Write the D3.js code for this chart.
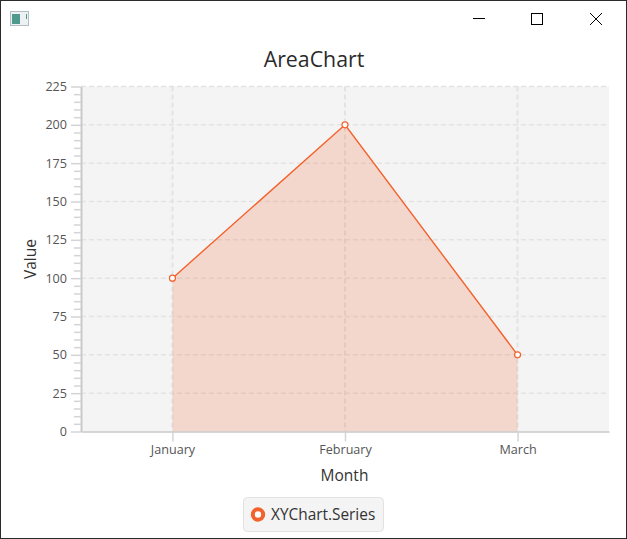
<!DOCTYPE html>
<html>
<head>
<meta charset="utf-8">
<script src="https://cdn.jsdelivr.net/npm/d3@7"></script>
<style>
html, body { margin: 0; padding: 0; background: #fff; }
svg { display: block; }
text { font-family: "Open Sans", "Noto Sans", sans-serif; }
</style>
</head>
<body>
<div id="screen"></div>
<script>
var width = 627;
var height = 539;

var months = ["January", "February", "March"];
var values = [100, 200, 50];
var majorTicks = [0, 25, 50, 75, 100, 125, 150, 175, 200, 225];
var minorTicks = [5, 10, 15, 20, 30, 35, 40, 45, 55, 60, 65, 70, 80, 85, 90, 95,
	105, 110, 115, 120, 130, 135, 140, 145, 155, 160, 165, 170,
	180, 185, 190, 195, 205, 210, 215, 220];
var chartTitle = "AreaChart";
var xTitle = "Month";
var yTitle = "Value";
var seriesName = "XYChart.Series";

var plotLeft = 81;
var plotRight = 609;
var plotTop = 86.5;
var plotBottom = 431.5;

var lineColor = "#f3622d";

var xScale = d3.scalePoint()
	.domain(months)
	.range([plotLeft, plotRight])
	.padding(0.53);

var yScale = d3.scaleLinear()
	.domain([0, 225])
	.range([plotBottom, plotTop]);

var screen = d3.select("#screen")
	.append("svg")
	.attr("width", width)
	.attr("height", height);

// window frame ------------------------------------------------------
screen.append("rect")
	.attr("x", 0.5)
	.attr("y", 0.5)
	.attr("width", width - 1)
	.attr("height", height - 1)
	.attr("fill", "#fff")
	.attr("stroke", "#2b2b2b");

var icon = screen.append("g");
icon.append("rect")
	.attr("x", 10.5).attr("y", 11.5)
	.attr("width", 18).attr("height", 14)
	.attr("fill", "#eef1f3").attr("stroke", "#b4bcc4");
icon.append("rect")
	.attr("x", 12).attr("y", 14)
	.attr("width", 8).attr("height", 10)
	.attr("fill", "#4f9a8c");
icon.append("rect")
	.attr("x", 26).attr("y", 14)
	.attr("width", 1).attr("height", 5)
	.attr("fill", "#4f9a8c");

var buttons = screen.append("g")
	.attr("fill", "none")
	.attr("stroke", "#000")
	.attr("stroke-width", 1);
buttons.append("path").attr("d", "M473 18.5H485");
buttons.append("rect").attr("x", 531.5).attr("y", 13.5).attr("width", 11).attr("height", 11);
buttons.append("path").attr("d", "M590 13L602 25M602 13L590 25");

// plot background ---------------------------------------------------
screen.append("rect")
	.attr("x", plotLeft)
	.attr("y", plotTop)
	.attr("width", plotRight - plotLeft)
	.attr("height", plotBottom - plotTop)
	.attr("fill", "#f4f4f4");

// grid --------------------------------------------------------------
var grid = screen.append("g")
	.attr("stroke", "#e3e3e3");

grid.selectAll(".hgrid")
	.data(majorTicks.slice(1))
	.enter()
	.append("line")
		.attr("class", "hgrid")
		.attr("x1", plotLeft)
		.attr("x2", plotRight)
		.attr("y1", function(d) { return yScale(d); })
		.attr("y2", function(d) { return yScale(d); })
		.attr("stroke-width", 1.5)
		.attr("stroke-dasharray", "5 3");

grid.selectAll(".vgrid")
	.data(months)
	.enter()
	.append("line")
		.attr("class", "vgrid")
		.attr("x1", function(d) { return xScale(d); })
		.attr("x2", function(d) { return xScale(d); })
		.attr("y1", plotTop)
		.attr("y2", plotBottom)
		.attr("stroke-width", 2)
		.attr("stroke-dasharray", "5 3");

// area sits over the grid, the grid shows faintly through it
var area = d3.area()
	.x(function(d, i) { return xScale(months[i]); })
	.y0(plotBottom)
	.y1(function(d) { return yScale(d); });

screen.append("path")
	.datum(values)
	.attr("d", area)
	.attr("fill", lineColor)
	.attr("fill-opacity", 0.2);

// series line and symbols -------------------------------------------
var line = d3.line()
	.x(function(d, i) { return xScale(months[i]); })
	.y(function(d) { return yScale(d); });

screen.append("path")
	.datum(values)
	.attr("d", line)
	.attr("fill", "none")
	.attr("stroke", lineColor)
	.attr("stroke-width", 1.4);

screen.selectAll(".symbol")
	.data(values)
	.enter()
	.append("circle")
		.attr("class", "symbol")
		.attr("cx", function(d, i) { return xScale(months[i]); })
		.attr("cy", function(d) { return yScale(d); })
		.attr("r", 3)
		.attr("fill", "#fff")
		.attr("stroke", lineColor)
		.attr("stroke-width", 1.2);

// axes --------------------------------------------------------------
var yAxis = screen.append("g")
	.attr("transform", "translate(" + plotLeft + ",0)")
	.call(d3.axisLeft(yScale).tickValues(majorTicks).tickSizeInner(10).tickSizeOuter(0).tickPadding(4));

var yMinor = screen.append("g")
	.attr("transform", "translate(" + plotLeft + ",0)")
	.call(d3.axisLeft(yScale).tickValues(minorTicks).tickSizeInner(7).tickSizeOuter(0).tickFormat(""));

var xAxis = screen.append("g")
	.attr("transform", "translate(0," + plotBottom + ")")
	.call(d3.axisBottom(xScale).tickSizeInner(10).tickSizeOuter(0).tickPadding(4));

[yAxis, yMinor, xAxis].forEach(function(a) {
	a.selectAll("line").attr("stroke", "#d4d4d4").attr("stroke-width", 1.5);
	a.selectAll("path").attr("stroke", "#c8c8c8").attr("stroke-width", 1.5);
	a.selectAll("text")
		.attr("fill", "#555")
		.style("font-size", "12.6px")
		.style("font-family", "\"Open Sans\", sans-serif");
});

// titles ------------------------------------------------------------
screen.append("text")
	.attr("x", 314)
	.attr("y", 67)
	.attr("text-anchor", "middle")
	.attr("fill", "#2b2b2b")
	.style("font-size", "21.3px")
	.text(chartTitle);

screen.append("text")
	.attr("x", 344.5)
	.attr("y", 481)
	.attr("text-anchor", "middle")
	.attr("fill", "#333")
	.style("font-size", "15.5px")
	.text(xTitle);

screen.append("text")
	.attr("transform", "translate(36,259) rotate(-90)")
	.attr("text-anchor", "middle")
	.attr("fill", "#333")
	.style("font-size", "15.5px")
	.text(yTitle);

// legend ------------------------------------------------------------
screen.append("rect")
	.attr("x", 243.5)
	.attr("y", 497.5)
	.attr("width", 140)
	.attr("height", 34)
	.attr("rx", 4)
	.attr("fill", "#f4f4f4")
	.attr("stroke", "#e2e2e2");

screen.append("circle")
	.attr("cx", 258)
	.attr("cy", 514.5)
	.attr("r", 5.2)
	.attr("fill", "#fff")
	.attr("stroke", lineColor)
	.attr("stroke-width", 4);

screen.append("text")
	.attr("x", 271)
	.attr("y", 520)
	.attr("fill", "#333")
	.style("font-size", "15.4px")
	.text(seriesName);
</script>
</body>
</html>
